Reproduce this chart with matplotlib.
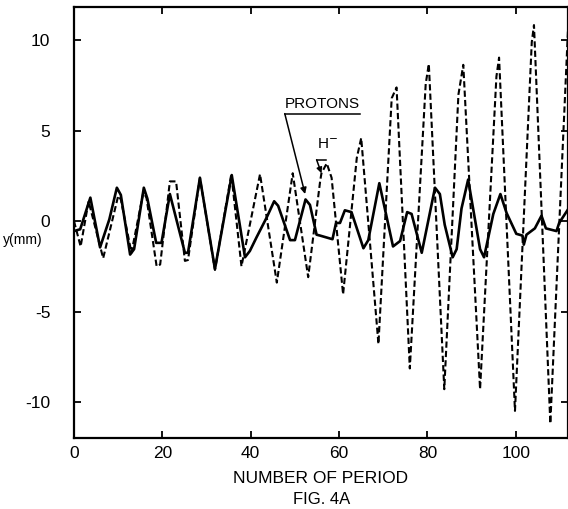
import matplotlib
matplotlib.use("Agg")
import matplotlib.pyplot as plt

plt.rcParams["font.family"] = ["Liberation Sans", "DejaVu Sans"]
plt.rcParams["axes.unicode_minus"] = False

# protons (solid line): number of period, y in mm
protones_x = [0, 1.4, 3.7, 5.9, 8.0, 9.7, 10.6, 12.7, 13.6, 15.8, 16.6, 18.6,
              19.8, 21.7, 25.1, 25.8, 28.5, 31.9, 35.7, 38.7, 39.8, 41.3,
              43.6, 45.3, 46.2, 48.9, 50.0, 52.4, 53.4, 54.9, 55.7, 58.5,
              59.3, 60.2, 61.3, 62.8, 65.5, 66.6, 69.1, 72.2, 73.8, 75.4,
              76.4, 78.7, 81.7, 82.8, 83.9, 85.7, 86.6, 87.7, 89.2, 91.9,
              92.8, 94.9, 96.5, 97.9, 100.1, 101.5, 101.8, 102.4, 104.3,
              105.8, 106.8, 109.2, 109.8, 111.8]
protones_y = [-0.55, -0.45, 1.3, -1.45, 0.1, 1.85, 1.45, -1.85, -1.55, 1.85,
              1.25, -1.2, -1.2, 1.5, -1.75, -1.75, 2.4, -2.65, 2.55, -2.0,
              -1.65, -0.9, 0.2, 1.1, 0.85, -1.05, -1.05, 1.2, 0.9, -0.75,
              -0.8, -1.0, -0.1, -0.1, 0.6, 0.5, -1.5, -1.05, 2.1, -1.4, -1.1,
              0.5, 0.4, -1.75, 1.85, 1.5, -0.2, -2.0, -1.55, 0.7, 2.3, -1.55,
              -2.0, 0.4, 1.5, 0.45, -0.7, -0.8, -1.3, -0.75, -0.4, 0.3, -0.4,
              -0.55, -0.1, 0.65]

# H- ions (dashed line)
hmenos_x = [0, 1.5, 3.3, 6.6, 10.0, 10.6, 13.0, 15.7, 16.4, 18.7, 19.5, 21.7,
            23.1, 25.1, 25.8, 28.5, 31.9, 35.6, 37.9, 42.1, 45.9, 49.5, 53.0,
            55.7, 56.0, 57.2, 58.3, 60.9, 64.0, 65.0, 68.9, 71.9, 73.0, 76.0,
            79.6, 80.3, 83.8, 87.0, 88.1, 91.9, 95.6, 96.2, 99.8, 103.6,
            104.1, 107.8, 111.8]
hmenos_y = [0.0, -1.4, 1.1, -2.05, 1.4, 1.2, -1.75, 1.6, 1.3, -2.5, -2.4, 2.2,
            2.2, -2.2, -2.15, 2.4, -2.7, 2.6, -2.5, 2.6, -3.4, 2.65, -3.1,
            2.2, 2.65, 3.2, 2.4, -4.05, 3.5, 4.6, -6.8, 6.8, 7.4, -8.15, 7.6,
            8.7, -9.3, 7.0, 8.65, -9.3, 8.0, 9.05, -10.5, 9.9, 10.85, -11.2,
            10.6]

xticks = [0, 20, 40, 60, 80, 100]
yticks = [-10, -5, 0, 5, 10]

fig = plt.figure(figsize=(5.68, 5.09), dpi=100)
ax = fig.add_axes([74 / 568, 1 - 438 / 509, 494 / 568, 431 / 509])

ax.plot(protones_x, protones_y, color="black", lw=1.9)
ax.plot(hmenos_x, hmenos_y, color="black", lw=1.5, dashes=(3.0, 1.5))

ax.set_xlim(0, 111.8)
ax.set_ylim(-12, 11.85)
ax.set_xticks(xticks)
ax.set_yticks(yticks)
ax.tick_params(direction="in", length=5, width=1.3, top=True, right=True,
               labelsize=12.5)
ax.tick_params(axis="y", pad=17)
ax.tick_params(axis="x", pad=6)
for s in ax.spines.values():
    s.set_linewidth(1.6)

ax.set_xlabel("NUMBER OF PERIOD", fontsize=12.5, labelpad=7)
ax.set_ylabel("y(mm)", rotation=0, fontsize=10, ha="center", va="center")
ax.yaxis.set_label_coords(-0.104, 0.46)
fig.text(0.567, 1 - 500 / 509, "FIG. 4A", ha="center", va="center",
         fontsize=12)

# labels of the curves
ax.text(56.2, 6.5, "PROTONS", fontsize=11, ha="center", va="center")
ax.plot([47.7, 64.7], [5.95, 5.95], color="black", lw=1.1)
ax.annotate("", xy=(52.3, 1.5), xytext=(47.7, 5.95),
            arrowprops=dict(arrowstyle="-|>", color="black", lw=1.1,
                            mutation_scale=9, shrinkA=0, shrinkB=0))
ax.text(54.9, 4.25, "H$^{-}$", fontsize=11, ha="left", va="center")
ax.plot([54.9, 57.0], [3.4, 3.4], color="black", lw=1.1)
ax.annotate("", xy=(56.0, 2.65), xytext=(54.9, 3.4),
            arrowprops=dict(arrowstyle="-|>", color="black", lw=1.1,
                            mutation_scale=8, shrinkA=0, shrinkB=0))

fig.savefig("out.png", dpi=100)
